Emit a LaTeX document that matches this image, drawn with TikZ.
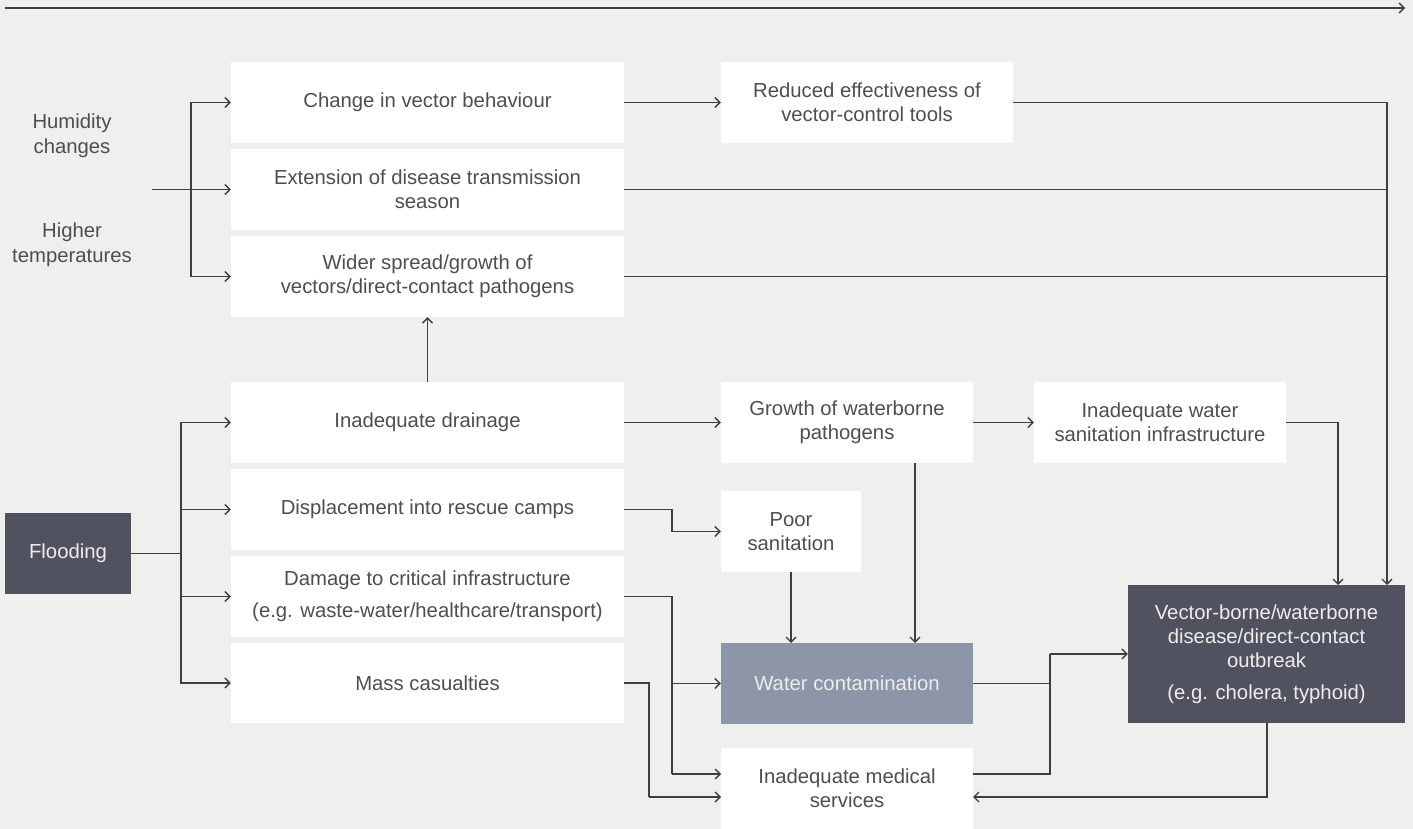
\documentclass[tikz,border=0pt]{standalone}
\usepackage{fontspec}
\setmainfont{Liberation Sans}
\usetikzlibrary{arrows.meta,calc}
\definecolor{bgc}{HTML}{EFEFED}
\definecolor{linec}{HTML}{3E3E3E}
\definecolor{txc}{HTML}{4E4E4E}
\definecolor{dkc}{HTML}{50535F}
\definecolor{mdc}{HTML}{8C96A8}
\definecolor{ltc}{HTML}{EDEDED}
\begin{document}
\begin{tikzpicture}[x=1pt,y=-1pt,
  box/.style={fill=white, draw=none, inner sep=0pt, align=center, text=txc,
    font=\fontsize{20.3}{24}\selectfont, minimum height=81pt},
  darkbox/.style={box, fill=dkc, text=ltc},
  midbox/.style={box, fill=mdc, text=ltc},
  plain/.style={inner sep=0pt, align=center, text=txc, font=\fontsize{20.3}{25}\selectfont},
  wire/.style={draw=linec, line width=1.3pt},
  arr/.style={wire, -{Straight Barb[length=5pt,width=10pt]}}]

\path[use as bounding box, fill=bgc] (0,0) rectangle (1413,829);

% top timeline
\coordinate (tl) at (5,8);
\coordinate (tr) at (1405,8);
\draw[arr] (tl) -- (tr);

% column A
\node[box, minimum width=393pt] (change) at (427.5,102.5) {Change in vector behaviour};
\node[box, minimum width=393pt] (ext) at (427.5,189.5) {Extension of disease transmission\\season};
\node[box, minimum width=393pt] (wider) at (427.5,276.5) {Wider spread/growth of\\vectors/direct-contact pathogens};
\node[box, minimum width=393pt] (drain) at (427.5,422.5) {Inadequate drainage};
\node[box, minimum width=393pt] (displ) at (427.5,509.5) {Displacement into rescue camps};
\node[box, minimum width=393pt] (damage) at (427.5,596.5) {Damage to critical infrastructure\\[8pt](e.g. waste-water/healthcare/transport)};
\node[box, minimum width=393pt, minimum height=80pt] (mass) at (427.5,683) {Mass casualties};

% other boxes
\node[box, minimum width=292pt] (reduced) at (867,102.5) {Reduced effectiveness of\\vector-control tools};
\node[box, minimum width=252pt] (growth) at (847,422.5) {Growth of waterborne\\pathogens};
\node[box, minimum width=252pt] (wsan) at (1160,422.5) {Inadequate water\\sanitation infrastructure};
\node[box, minimum width=140pt] (poor) at (791,531.5) {Poor\\sanitation};
\node[midbox, minimum width=252pt] (wcont) at (847,683.5) {Water contamination};
\node[box, minimum width=252pt] (med) at (847,788.5) {Inadequate medical\\services};
\node[darkbox, minimum width=277pt, minimum height=138pt] (vector) at (1266.5,654)
  {Vector-borne/waterborne\\disease/direct-contact\\outbreak\\[8pt](e.g. cholera, typhoid)};
\node[darkbox, minimum width=126pt] (flood) at (68,553.5) {Flooding};

% left labels
\node[plain] (hum) at (72,136) {Humidity\\changes};
\node[plain] (temp) at (72,245) {Higher\\temperatures};

% climate inputs
\coordinate (hin) at (152,189.5);
\coordinate (hj) at (191,189.5);
\draw[wire] (hin) -- (hj);
\draw[arr] (hj) -- (ext);
\draw[arr] (hj) |- (change);
\draw[arr] (hj) |- (wider);

% right-hand collector
\coordinate (rtop) at (1387,585);
\coordinate (r2) at (1387,189.5);
\coordinate (r3) at (1387,276.5);
\draw[arr] (reduced) -| (rtop);
\draw[wire] (ext) -- (r2);
\draw[wire] (wider) -- (r3);
\draw[arr] (change) -- (reduced);

% flooding fan
\coordinate (fj) at (181,553.5);
\draw[wire] (flood) -- (fj);
\draw[arr] (fj) |- (drain);
\draw[arr] (fj) |- (displ);
\draw[arr] (fj) |- (damage);
\draw[arr] (fj) |- (mass);

\draw[arr] (drain) -- (wider);
\draw[arr] (drain) -- (growth);
\draw[arr] (growth) -- (wsan);

\coordinate (wsd) at (1338,585);
\draw[arr] (wsan) -| (wsd);

% displacement -> poor sanitation
\coordinate (dp1) at (672,509.5);
\coordinate (dp2) at (672,531.5);
\draw[arr] (displ) -- (dp1) -- (dp2) -- (poor);

% into water contamination
\coordinate (p1) at (791,572);
\coordinate (p2) at (791,643);
\draw[arr] (p1) -- (p2);
\coordinate (g1) at (915,463);
\coordinate (g2) at (915,643);
\draw[arr] (g1) -- (g2);

% damage branches
\coordinate (dm1) at (672,596.5);
\coordinate (dm2) at (672,683.5);
\coordinate (dm3) at (672,774);
\coordinate (md1) at (721,774);
\draw[wire] (damage) -- (dm1) -- (dm3);
\draw[arr] (dm2) -- (wcont);
\draw[arr] (dm3) -- (md1);

% mass casualties
\coordinate (ms1) at (649,683);
\coordinate (ms2) at (649,797);
\coordinate (md2) at (721,797);
\draw[wire] (mass) -- (ms1) -- (ms2);
\draw[arr] (ms2) -- (md2);

% to outbreak
\coordinate (oj1) at (1050,683.5);
\coordinate (oj2) at (1050,774);
\coordinate (oj3) at (1050,654);
\coordinate (me1) at (973,774);
\draw[wire] (wcont) -- (oj1);
\draw[wire] (me1) -- (oj2) -- (oj3);
\draw[arr] (oj3) -- (vector);

% outbreak feedback to medical services
\coordinate (vb1) at (1267,723);
\coordinate (vb2) at (1267,797);
\coordinate (me2) at (973,797);
\draw[arr] (vb1) -- (vb2) -- (me2);
\end{tikzpicture}
\end{document}
